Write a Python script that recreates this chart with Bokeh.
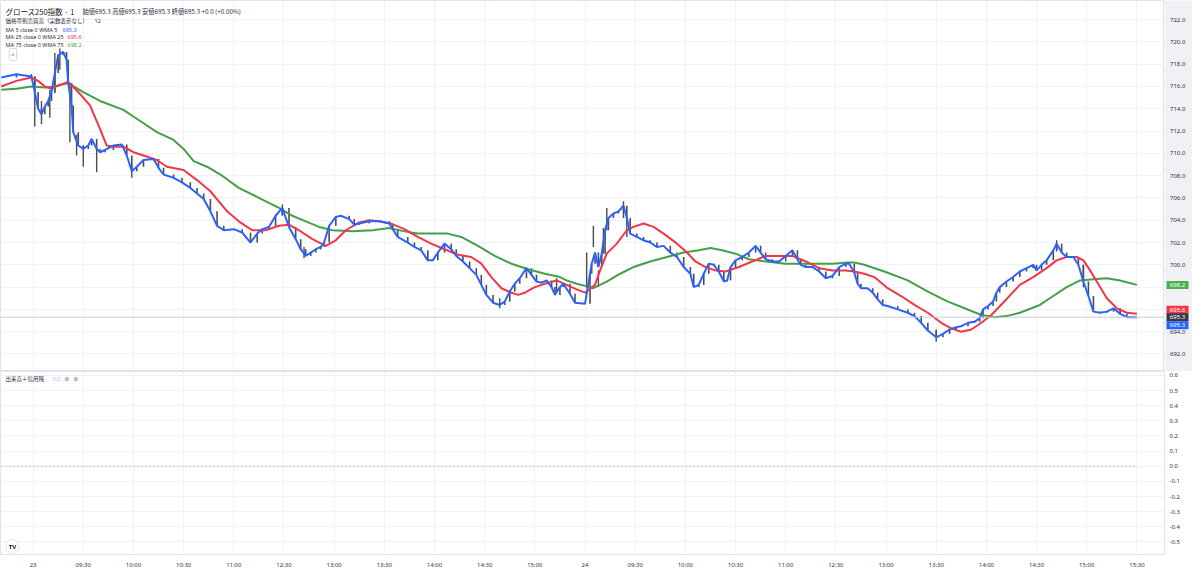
from bokeh.plotting import figure
from bokeh.layouts import column, row
from bokeh.models import Range1d, FixedTicker, NumeralTickFormatter, Label, Span
from bokeh.core.properties import value
from bokeh.embed import file_html
from bokeh.resources import INLINE

# ---------------- data ----------------
# x = minute index from 23日 09:00 (sessions 09:00-11:30, 12:30-15:30; lunch skipped)
tick_index = [0, 30, 60, 90, 120, 150, 180, 210, 240, 270, 300, 330,
              360, 390, 420, 450, 480, 510, 540, 570, 600, 630, 660]
tick_labels = ["23", "09:30", "10:00", "10:30", "11:00", "12:30", "13:00", "13:30", "14:00", "14:30", "15:00",
               "24", "09:30", "10:00", "10:30", "11:00", "12:30", "13:00", "13:30", "14:00", "14:30", "15:00", "15:30"]
price_ticks = [692.0, 694.0, 696.0, 698.0, 700.0, 702.0, 704.0, 706.0, 708.0, 710.0,
               712.0, 714.0, 716.0, 718.0, 720.0, 722.0]
sub_ticks = [-0.5, -0.4, -0.3, -0.2, -0.1, 0.0, 0.1, 0.2, 0.3, 0.4, 0.5, 0.6]

# MA 5 (WMA) - follows the 1-minute closes
ma5_t = [-19, -10, -1, 1, 3, 5, 7, 9, 11, 13, 15, 18, 20, 21, 23, 24, 27, 30, 33, 35, 38, 40, 43, 48, 53,
         56, 59, 62, 66, 72, 75, 78, 84, 89, 94, 98, 102, 106, 110, 114, 120, 125, 130, 134, 137, 141,
         145, 149, 153, 157, 160, 163, 166, 169, 172, 174, 177, 181, 184, 189, 192, 195, 201, 207, 213,
         215, 218, 224, 228, 232, 236, 239, 242, 246, 250, 253, 257, 261, 265, 268, 271, 275, 279, 282,
         285, 288, 291, 295, 298, 301, 304, 307, 310, 312, 315, 317, 321, 324, 330, 333, 334, 336, 338,
         340, 342, 344, 347, 350, 353, 355, 357, 361, 365, 369, 373, 377, 381, 385, 389, 393, 395, 398,
         401, 404, 407, 410, 413, 415, 417, 420, 424, 428, 432, 435, 438, 442, 446, 450, 454, 457, 459,
         462, 466, 470, 474, 478, 482, 486, 488, 491, 493, 495, 499, 502, 505, 508, 511, 517, 523, 527,
         531, 535, 540, 544, 548, 552, 555, 559, 563, 566, 568, 571, 574, 576, 578, 582, 586, 590, 594,
         598, 600, 603, 606, 610, 612, 615, 618, 622, 625, 628, 631, 634, 638, 642, 646, 650, 654, 658, 660]
ma5_v = [716.8, 717.1, 716.9, 715.5, 714.0, 713.5, 714.2, 714.7, 715.5, 717.2, 718.8, 719.1, 718.4, 716.3,
         714.3, 711.9, 710.7, 710.4, 710.7, 711.3, 710.4, 710.1, 710.3, 710.7, 710.8,
         709.8, 708.4, 708.8, 709.4, 709.5, 708.7, 708.1, 707.8, 707.4, 706.9, 706.4, 705.9, 704.8, 703.5,
         703.1, 703.2, 702.9, 702.0, 702.8, 703.2, 703.4,
         704.4, 705.1, 703.4, 702.3, 701.4, 700.8, 701.1, 701.4, 701.6, 702.0, 703.5, 704.3, 704.4, 704.1,
         703.6, 703.7, 703.9, 703.9, 703.7,
         703.2, 702.5, 702.0, 701.6, 701.3, 700.4, 700.4, 701.1, 701.9, 701.4, 700.8, 700.3, 699.7, 699.1,
         698.2, 697.3, 696.6, 696.4, 696.7,
         697.6, 698.3, 698.8, 699.7, 699.1, 698.5, 698.4, 698.6, 698.0, 697.3, 698.0, 698.3, 697.4, 696.6,
         696.5, 699.2, 700.1, 701.1, 699.8,
         701.0, 703.1, 704.2, 704.6, 704.8, 705.3, 704.2, 702.8, 702.5, 702.2, 702.0, 701.6, 701.7, 701.1,
         700.7, 699.8, 699.2, 698.0, 698.2,
         699.2, 700.1, 700.0, 699.4, 698.5, 698.6, 699.8, 700.4, 700.7, 701.1, 701.7, 701.1, 700.5, 700.3,
         700.3, 700.8, 701.3, 700.5, 700.0,
         699.8, 699.8, 699.4, 698.8, 699.0, 699.8, 700.1, 700.1, 699.3, 698.3, 697.9, 697.9, 697.5, 696.9,
         696.4, 696.3, 696.0, 695.7, 695.4,
         694.8, 694.1, 693.5, 693.8, 694.2, 694.4, 694.5, 694.8, 694.9, 695.2, 696.0, 696.3, 696.7, 697.5,
         698.0, 698.5, 698.9, 699.4, 699.7,
         700.0, 699.5, 700.0, 700.4, 701.3, 701.9, 701.1, 700.7, 700.7, 700.0, 698.5, 697.2, 695.8, 695.7,
         695.8, 696.1, 695.6, 695.3, 695.3, 695.3]

# MA 25 (WMA)
ma25_t = [-19, -10, -1, 3, 7, 11, 15, 21, 27, 34, 40, 44, 49, 54, 60, 66, 74, 80, 90, 98, 106, 116, 123,
          131, 139, 147, 153, 159, 167, 175, 181, 187, 195, 201, 207, 214, 222, 230, 238, 246, 254, 262,
          268, 274, 280, 286, 290, 294, 300, 306, 313, 319, 325, 330, 336, 339, 343, 349, 355, 359, 365,
          371, 377, 385, 391, 396, 402, 408, 414, 422, 430, 438, 446, 454, 462, 470, 478, 486, 491, 497,
          503, 511, 519, 527, 535, 543, 549, 555, 561, 567, 573, 580, 590, 598, 606, 612, 618, 624, 628,
          632, 636, 642, 648, 654, 660]
ma25_v = [716.0, 716.5, 716.8, 716.5, 716.0, 715.8, 716.1, 716.4, 715.5, 714.3, 712.2, 710.7, 710.6,
          710.6, 710.1, 709.8, 709.4, 708.8, 708.5, 707.6, 706.6, 704.8, 703.9,
          703.1, 703.1, 703.5, 703.6, 703.1, 702.3, 701.7, 702.2, 703.1, 703.8, 704.0, 703.9, 703.7, 703.2,
          702.5, 701.9, 701.4, 700.9, 700.7,
          700.1, 698.9, 697.9, 697.5, 697.3, 697.5, 698.0, 698.3, 698.6, 698.2, 697.8, 697.5, 698.2, 699.5,
          701.0, 701.9, 703.1, 703.4, 703.7,
          703.4, 702.8, 701.9, 701.1, 700.3, 699.8, 699.5, 699.4, 699.8, 700.3, 700.8, 700.8, 700.8, 700.3,
          699.7, 699.5, 699.5, 699.4, 699.2,
          698.9, 697.9, 697.2, 696.4, 695.7, 694.8, 694.3, 694.0, 694.2, 694.8, 695.5, 696.6, 698.2, 698.9,
          699.7, 700.4, 700.7, 700.7, 700.4,
          699.5, 698.5, 697.0, 696.1, 695.7, 695.6]

# MA 75 (WMA)
ma75_t = [-19, -10, -1, 7, 13, 21, 30, 40, 54, 64, 74, 84, 90, 96, 104, 112, 123, 135, 147, 155, 163,
          171, 179, 191, 203, 213, 222, 230, 240, 248, 256, 266, 276, 286, 296, 306, 315, 319, 325, 333,
          335, 343, 351, 359, 369, 379, 389, 398, 405, 412, 420, 428, 438, 450, 462, 478, 487, 491, 497,
          501, 509, 523, 535, 547, 557, 567, 575, 582, 590, 602, 610, 618, 626, 634, 642, 650, 660]
ma75_v = [715.7, 715.8, 716.0, 715.9, 716.0, 716.3, 715.5, 714.7, 713.9, 712.9, 711.9, 711.2, 710.4,
          709.3, 708.8, 708.1, 706.9, 706.0, 705.1, 704.4, 703.9,
          703.4, 703.1, 703.0, 703.1, 703.3, 703.0, 702.8, 702.8, 702.8, 702.5, 701.7, 700.8, 700.1, 699.6,
          699.2, 698.9, 698.6, 698.3, 698.0,
          697.9, 698.5, 699.2, 699.8, 700.3, 700.7, 701.1, 701.3, 701.5, 701.3, 701.0, 700.5, 700.3, 700.1,
          700.1, 700.1, 700.2, 700.2, 700.0,
          699.8, 699.4, 698.6, 697.6, 696.7, 696.1, 695.5, 695.3, 695.4, 695.7, 696.4, 697.2, 698.0, 698.6,
          698.7, 698.8, 698.6, 698.2]

# individual 1-minute bar ranges (long candles / wicks visible in the chart)
spike_t = [1, 5, 10, 13, 16, 22, 26, 30, 38, 59, 149, 162, 279, 313, 331, 335, 338, 341, 343, 353, 355,
           540, 612, 628]
spike_lo = [712.4, 712.6, 713.2, 715.4, 717.5, 711.0, 709.8, 708.8, 708.3, 707.8, 704.6, 700.6, 696.1,
            697.6, 697.9, 701.6, 698.0, 701.0, 703.1, 704.2, 702.5, 693.1, 701.2, 698.0]
spike_hi = [716.9, 714.7, 715.7, 719.0, 719.4, 716.3, 711.7, 710.7, 710.4, 708.8, 705.4, 701.6, 697.0,
            698.8, 701.1, 703.5, 699.5, 703.3, 705.1, 705.7, 704.2, 694.2, 702.2, 700.0]

last_close = 695.3
last_ma5 = 695.3
last_ma25 = 695.6
last_ma75 = 698.2
sub_value = 0.0

# ---------------- styling ----------------
W = 1192
H1 = 371
FH2 = 183
XAX_H = 17
AXW = 28
FW = W - AXW
C_BLUE = "#2962ff"
C_RED = "#f23645"
C_GREEN = "#43a047"
C_GRID = "#f1f2f5"
C_TEXT = "#131722"
JP = "Noto Sans CJK JP"
LAT = "Noto Sans"
Y0, Y1 = 690.43, 723.71

p1 = figure(width=FW, height=H1, x_range=Range1d(-19.5, 676.5), y_range=Range1d(Y0, Y1),
            x_axis_location=None, y_axis_location=None, toolbar_location=None,
            output_backend="svg", min_border_left=0, min_border_right=0, min_border_top=0,
            min_border_bottom=0, background_fill_color="#ffffff", border_fill_color="#ffffff",
            outline_line_color="#e0e3eb")
p1.ygrid.ticker = FixedTicker(ticks=price_ticks)
p1.xgrid.ticker = FixedTicker(ticks=tick_index)
p1.grid.grid_line_color = C_GRID

p1.add_layout(Span(location=last_close, dimension="width", line_color="#c9ccd3", line_width=1))

# candles (open = previous close, close = current close) and long bars
c_t = ma5_t[1:]
c_o = ma5_v[:-1]
c_c = ma5_v[1:]
p1.segment(x0=c_t, y0=c_o, x1=c_t, y1=c_c, line_color="#4d4d4d", line_width=1.6)
p1.segment(x0=spike_t, y0=spike_lo, x1=spike_t, y1=spike_hi, line_color="#4d4d4d", line_width=1.4)

p1.line(ma75_t, ma75_v, line_color=C_GREEN, line_width=2)
p1.line(ma25_t, ma25_v, line_color=C_RED, line_width=2)
p1.line(ma5_t, ma5_v, line_color=C_BLUE, line_width=2)


def lab(fig, fh, x, ytop, text, size, color, font=LAT, style="normal", align="left"):
    fig.add_layout(Label(x=x, y=fh - ytop, x_units="screen", y_units="screen", text=text,
                         text_font=font, text_font_size=f"{size}px", text_color=color,
                         text_baseline="middle", text_align=align, text_font_style=style))


# header legend
lab(p1, H1, 5, 10.5, "グロース250指数 · 1", 7.5, C_TEXT, JP)
lab(p1, H1, 82, 10.8, "始値695.3  高値695.3  安値695.3  終値695.3  +0.0 (+0.00%)", 6.3, "#2a2e39", JP)
lab(p1, H1, 5, 20.5, "価格帯別売買高（実数表示なし）", 5.5, "#2a2e39", JP)
lab(p1, H1, 94, 20.5, "12", 5.5, "#2a2e39", LAT)
lab(p1, H1, 5, 29.0, "MA 5 close 0 WMA 5", 5.5, "#2a2e39", LAT)
lab(p1, H1, 62, 29.0, f"{last_ma5:.1f}", 5.5, C_BLUE, LAT)
lab(p1, H1, 5, 36.5, "MA 25 close 0 WMA 25", 5.5, "#2a2e39", LAT)
lab(p1, H1, 67, 36.5, f"{last_ma25:.1f}", 5.5, C_RED, LAT)
lab(p1, H1, 5, 44.0, "MA 75 close 0 WMA 75", 5.5, "#2a2e39", LAT)
lab(p1, H1, 67, 44.0, f"{last_ma75:.1f}", 5.5, C_GREEN, LAT)
p1.add_layout(Label(x=12.5, y=H1 - 54, x_units="screen", y_units="screen", text="^",
                    text_font=LAT, text_font_size="6px", text_color="#2a2e39", text_align="center",
                    text_baseline="middle", background_fill_color="#ffffff",
                    border_line_color="#d1d4dc", padding=2, border_radius=2))

# ---------------- price scale (right of the upper pane) ----------------
ps = figure(width=AXW, height=H1, x_range=Range1d(0, AXW), y_range=p1.y_range,
            x_axis_location=None, y_axis_location=None, toolbar_location=None,
            output_backend="svg", min_border_left=0, min_border_right=0, min_border_top=0,
            min_border_bottom=0, background_fill_color="#eff1f4", border_fill_color="#eff1f4",
            outline_line_color=None)
ps.grid.visible = False
ps.text(x=[5.5] * len(price_ticks), y=price_ticks, text=[f"{t:.1f}" for t in price_ticks],
        text_font=value(LAT), text_font_size="6px", text_color="#333333",
        text_baseline="middle", text_align="left")

px_unit = (Y1 - Y0) / H1          # price units per screen pixel
badge_vals = [last_ma75, last_ma25, last_close, last_ma5]
badge_cols = ["#4caf50", C_RED, "#363a45", C_BLUE]
badge_shift = [0, 4, 0, -8]       # pixels, to stack overlapping badges like the reference
badge_y = [v + s * px_unit for v, s in zip(badge_vals, badge_shift)]
ps.rect(x=[13.0] * 4, y=badge_y, width=22, height=8, height_units="screen",
        fill_color=badge_cols, line_color=None)
ps.text(x=[13.0] * 4, y=badge_y, text=[f"{v:.1f}" for v in badge_vals],
        text_font=value(LAT), text_font_size="6px", text_color="#ffffff",
        text_baseline="middle", text_align="center")

# ---------------- lower pane ----------------
p2 = figure(frame_width=FW, frame_height=FH2, x_range=p1.x_range, y_range=Range1d(-0.583, 0.626),
            y_axis_location="right", toolbar_location=None, output_backend="svg",
            min_border_left=0, min_border_right=AXW, min_border_top=0, min_border_bottom=XAX_H,
            background_fill_color="#ffffff", border_fill_color="#ffffff",
            outline_line_color="#e0e3eb")
p2.yaxis.ticker = FixedTicker(ticks=sub_ticks)
p2.yaxis.formatter = NumeralTickFormatter(format="0.0")
p2.xaxis.ticker = FixedTicker(ticks=tick_index)
p2.xaxis.major_label_overrides = {t: s for t, s in zip(tick_index, tick_labels)}
for ax in (p2.yaxis, p2.xaxis):
    ax.major_tick_line_color = None
    ax.minor_tick_line_color = None
    ax.major_tick_out = 0
    ax.major_tick_in = 0
    ax.axis_line_color = None
    ax.axis_label = None
    ax.major_label_text_font_size = "6px"
    ax.major_label_text_font = LAT
    ax.major_label_text_color = "#333333"
p2.yaxis.major_label_standoff = 5
p2.xaxis.major_label_standoff = 6
p2.ygrid.ticker = FixedTicker(ticks=sub_ticks)
p2.grid.grid_line_color = C_GRID

p2.line([ma5_t[0], ma5_t[-1]], [sub_value, sub_value], line_color="#9cc5f7", line_width=1,
        line_dash="2 2")

lab(p2, FH2, 5, 7.5, "出来高＋信用残", 5.5, "#2a2e39", JP)
lab(p2, FH2, 52, 7.5, f"{sub_value:.1f}", 5.5, "#90bff9", LAT)
lab(p2, FH2, 64, 7.5, "⊘", 5.5, "#50535e", "DejaVu Sans")
lab(p2, FH2, 73, 7.5, "⊘", 5.5, "#50535e", "DejaVu Sans")
p2.add_layout(Label(x=12, y=8, x_units="screen", y_units="screen", text="TV",
                    text_font=LAT, text_font_size="6px", text_font_style="bold",
                    text_color="#131722", text_align="center", text_baseline="middle",
                    background_fill_color="#ffffff", border_line_color="#e0e3eb",
                    padding=3, border_radius=7))

layout = column(row(p1, ps, spacing=0), p2, spacing=0)
open("out.html", "w").write(file_html(layout, INLINE))
